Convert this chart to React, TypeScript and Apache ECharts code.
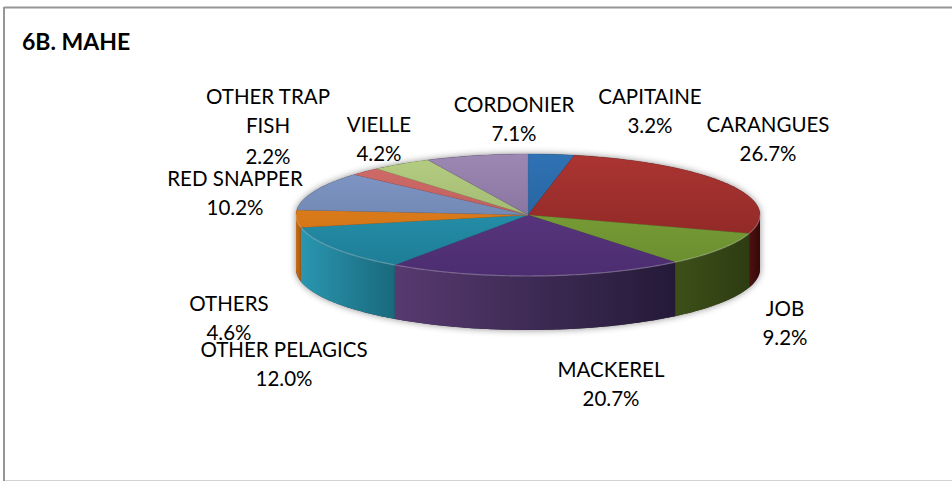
import React, { useEffect, useRef } from "react";
import * as echarts from "echarts";

const categories = ["CAPITAINE", "CARANGUES", "JOB", "MACKEREL", "OTHER PELAGICS", "OTHERS", "RED SNAPPER", "OTHER TRAP FISH", "VIELLE", "CORDONIER"];
const shares = [3.2, 26.7, 9.2, 20.7, 12.0, 4.6, 10.2, 2.2, 4.2, 7.1];
const titleText = "6B. MAHE";

const topLight = ["#2f72b4", "#ab3532", "#83a93c", "#623c89", "#2b9fbb", "#ec861f", "#829acb", "#d26c6a", "#b6ce82", "#9c88b2"];
const topDark = ["#215a90", "#862422", "#688c2e", "#4c2d70", "#1d7a93", "#c56c14", "#64799f", "#b05654", "#90a864", "#77648e"];
const wallLeft = ["#000000", "#4d1110", "#3d5019", "#573a70", "#2a96b0", "#c76d15", "#000000", "#000000", "#000000", "#000000"];
const wallRight = ["#000000", "#360808", "#2e3c12", "#241a38", "#19697c", "#a85a10", "#000000", "#000000", "#000000", "#000000"];

const labelLines = [["CAPITAINE"], ["CARANGUES"], ["JOB"], ["MACKEREL"], ["OTHER PELAGICS"], ["OTHERS"], ["RED SNAPPER"], ["OTHER TRAP", "FISH"], ["VIELLE"], ["CORDONIER"]];
const labelAnchors = [[650, 96], [768, 124], [785, 308], [611, 369], [284, 349], [229, 303], [235, 178], [268, 96], [379, 124], [514, 104]];

const CX = 528, CY = 215, RX = 232, RY = 61, DEPTH = 54, LINE = 29;

const rad = (d: number) => (d * Math.PI) / 180;
const rim = (d: number, dy = 0) => [CX + RX * Math.sin(rad(d)), CY - RY * Math.cos(rad(d)) + dy];
const arc = (a: number, b: number, dy = 0) => {
  const pts: number[][] = [];
  const n = Math.max(2, Math.ceil(Math.abs(b - a)));
  for (let i = 0; i <= n; i++) pts.push(rim(a + ((b - a) * i) / n, dy));
  return pts;
};

export default function App() {
  const ref = useRef<HTMLDivElement>(null);
  useEffect(() => {
    const chart = echarts.init(ref.current!, null, { renderer: "svg" });
    const total = shares.reduce((s, v) => s + v, 0);
    const font = "Lato";
    const renderItem = (params: any, api: any) => {
      const i = params.dataIndex;
      const startVal = shares.slice(0, i).reduce((s, v) => s + v, 0);
      const a0 = (startVal / total) * 360;
      const a1 = a0 + (api.value(0) / total) * 360;
      const children: any[] = [];
      const w0 = Math.max(a0, 90), w1 = Math.min(a1, 270);
      if (w1 > w0) {
        const pts = [...arc(w0, w1), ...arc(w1, w0, DEPTH)];
        children.push({
          type: "polygon",
          shape: { points: pts },
          style: {
            fill: new echarts.graphic.LinearGradient(0, 0, 1, 0, [
              { offset: 0, color: wallLeft[i] },
              { offset: 1, color: wallRight[i] },
            ]),
          },
        });
      }
      children.push({
        type: "polygon",
        shape: { points: [[CX, CY], ...arc(a0, a1)] },
        style: {
          fill: new echarts.graphic.LinearGradient(0, CY - RY, 0, CY + RY, [
            { offset: 0, color: topLight[i] },
            { offset: 1, color: topDark[i] },
          ], true),
          stroke: topDark[i],
          lineWidth: 0.3,
        },
      });
      if (w1 > w0) {
        children.push({
          type: "polyline",
          shape: { points: arc(w0, w1) },
          style: { stroke: "rgba(255,255,255,0.28)", lineWidth: 1.2, fill: "none" },
        });
      }
      labelLines[i].concat(api.value(0).toFixed(1) + "%").forEach((line, k) => {
        const extra = labelLines[i].length > 1 && k === 2 ? 2 : 0;
        children.push({
          type: "text",
          x: labelAnchors[i][0],
          y: labelAnchors[i][1] + k * LINE + extra,
          style: { text: line, fill: "#000", font: `20.5px ${font}`, textAlign: "center", textVerticalAlign: "middle" },
        });
      });
      return { type: "group", children };
    };
    chart.setOption({
      animation: false,
      backgroundColor: "#fff",
      title: {
        text: titleText,
        left: 22,
        top: 29,
        padding: 0,
        textStyle: { fontFamily: font, fontWeight: "bold", fontSize: 23, color: "#000" },
      },
      graphic: [
        { type: "line", z: 1, shape: { x1: 4, y1: 7.5, x2: 952, y2: 7.5 }, style: { stroke: "#969696", lineWidth: 2 } },
        { type: "line", z: 1, shape: { x1: 4, y1: 7, x2: 4, y2: 481 }, style: { stroke: "#969696", lineWidth: 2 } },
        { type: "line", z: 1, shape: { x1: 5, y1: 480.5, x2: 952, y2: 480.5 }, style: { stroke: "#d2d2d2", lineWidth: 1 } },
        {
          type: "polygon",
          z: 0,
          shape: { points: [...arc(90, 270), ...arc(270, 450)].map((p, idx) => (idx <= 180 ? [p[0], p[1] + DEPTH] : p)) },
          style: { fill: "#333", shadowBlur: 7, shadowColor: "rgba(0,0,0,0.45)" },
        },
      ],
      series: [
        {
          type: "custom",
          coordinateSystem: "none",
          z: 5,
          data: shares.map((v, idx) => ({ name: categories[idx], value: v })),
          renderItem,
        },
      ],
    });
    return () => chart.dispose();
  }, []);
  return <div ref={ref} style={{ position: "fixed", left: 0, top: 0, width: 952, height: 481 }} />;
}
